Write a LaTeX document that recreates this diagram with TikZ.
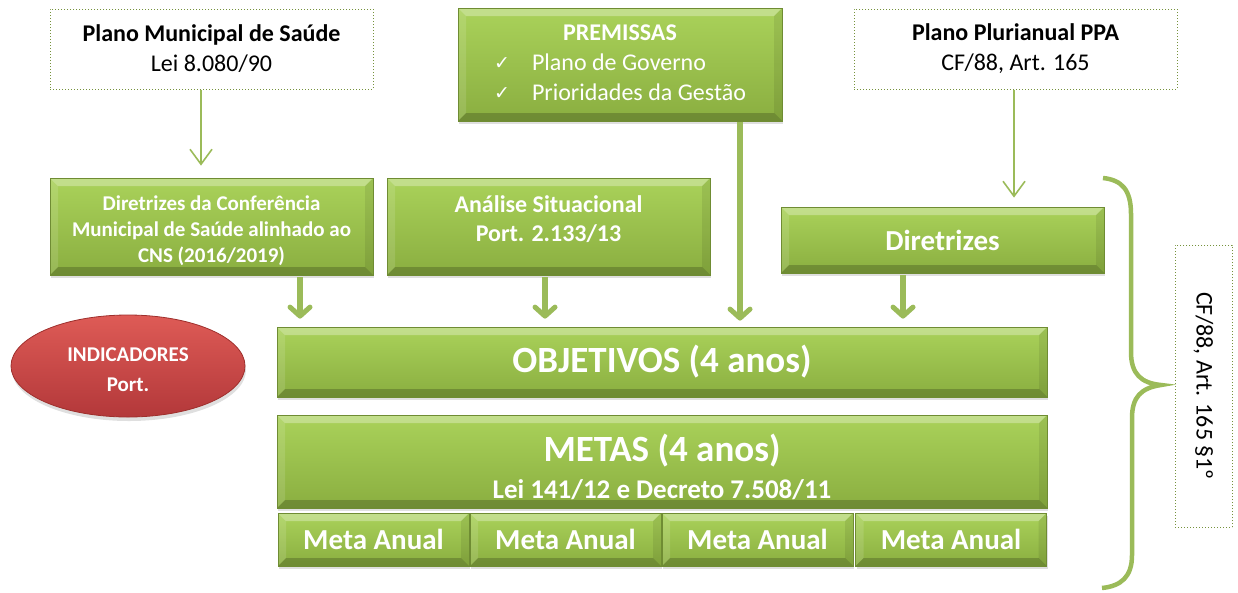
\documentclass[tikz,border=0pt]{standalone}
\usepackage{fontspec}
\setmainfont{Carlito}
\newfontfamily\dejavu{DejaVu Sans}
\usetikzlibrary{arrows.meta,shadows,calc,shapes.geometric}
\definecolor{olv}{HTML}{9BBB59}
\definecolor{olvdk}{HTML}{76923C}
\definecolor{gtop}{HTML}{AAD25A}
\definecolor{gbot}{HTML}{8AAE40}
\definecolor{gedge}{HTML}{6F8C33}
\definecolor{rtop}{HTML}{DE5B56}
\definecolor{rbot}{HTML}{B3383A}
\definecolor{redge}{HTML}{9E2F2C}
\newcommand\fsz[2]{\fontsize{#1}{#2}\selectfont}
\tikzset{
  bevel/.style={path picture={
    \path (path picture bounding box.north west) coordinate (pNW)
          (path picture bounding box.north east) coordinate (pNE)
          (path picture bounding box.south west) coordinate (pSW)
          (path picture bounding box.south east) coordinate (pSE);
    \fill[white,opacity=.30] (pNW) -- (pNE) -- ([shift={(-8pt,-8pt)}]pNE) -- ([shift={(8pt,-8pt)}]pNW) -- cycle;
    \fill[white,opacity=.12] (pNW) -- ([shift={(8pt,-8pt)}]pNW) -- ([shift={(8pt,8pt)}]pSW) -- (pSW) -- cycle;
    \fill[black,opacity=.08] (pNE) -- ([shift={(-8pt,-8pt)}]pNE) -- ([shift={(-8pt,8pt)}]pSE) -- (pSE) -- cycle;
    \fill[black,opacity=.20] (pSW) -- ([shift={(8pt,8pt)}]pSW) -- ([shift={(-8pt,8pt)}]pSE) -- (pSE) -- cycle;
  }},
  greenbox/.style={rectangle, inner sep=0pt, align=center, text=white,
    top color=gtop, bottom color=gbot, draw=gedge, line width=0.8pt,
    drop shadow={shadow xshift=1pt, shadow yshift=-3pt, opacity=0.25}, bevel},
  dotbox/.style={rectangle, inner sep=0pt, align=center, text=black, fill=white,
    draw=olvdk, line width=1pt, dotted, font=\fsz{24}{30}},
  wtext/.style={text=white, align=center, inner sep=0pt},
  thinarr/.style={draw=olv, line width=1.6pt, -{Straight Barb[length=15pt,width=22pt,line width=1.6pt]}},
  thickarr/.style={draw=olv, line width=5.5pt, -{Straight Barb[length=9pt,width=20pt,line width=5pt,round]}},
}
\begin{document}
\begin{tikzpicture}[x=1pt,y=-1pt]
\useasboundingbox (0,0) rectangle (1238,592);

% top row
\node[dotbox, minimum width=323pt, minimum height=80pt] (pms) at (211.5,49)
  {\textbf{Plano Municipal de Saúde}\\Lei 8.080/90};
\node[greenbox, minimum width=324pt, minimum height=113pt, font=\fsz{24}{30}] (prem) at (620,64.5)
  {\begin{tabular}{@{}l@{\hspace{22pt}}l@{}}
    \multicolumn{2}{c}{\textbf{PREMISSAS}}\\
    {\dejavu\fsz{19}{30}\raisebox{1pt}{✓}} & Plano de Governo\\
    {\dejavu\fsz{19}{30}\raisebox{1pt}{✓}} & Prioridades da Gestão
   \end{tabular}};
\node[dotbox, minimum width=323pt, minimum height=80pt] (ppa) at (1015.5,49)
  {\textbf{Plano Plurianual PPA}\\CF/88, Art. 165};

% second row
\node[greenbox, minimum width=323pt, minimum height=97pt] (dcms) at (211.5,226.5) {};
\node[wtext, font=\fsz{21}{26}\bfseries] (dcmstext) at (211.5,230.5)
  {Diretrizes da Conferência\\Municipal de Saúde alinhado ao\\CNS (2016/2019)};
\node[greenbox, minimum width=323pt, minimum height=97pt] (ana) at (548.5,226.5) {};
\node[wtext, font=\fsz{24}{29}\bfseries] (anatext) at (548.5,219)
  {Análise Situacional\\Port. 2.133/13};
\node[greenbox, minimum width=323pt, minimum height=66pt, font=\fsz{29}{34}\bfseries] (dir) at (942.5,240)
  {Diretrizes};

% objectives and goals
\node[greenbox, minimum width=770pt, minimum height=70pt, font=\fsz{37}{44}\bfseries] (obj) at (662,362)
  {OBJETIVOS (4 anos)};
\node[greenbox, minimum width=770pt, minimum height=93pt] (met) at (662,461.5) {};
\node[wtext, font=\fsz{37}{44}\bfseries] (mettext) at (662,451) {METAS (4 anos)};
\node[wtext, font=\fsz{27}{32}\bfseries] (lei) at (662,490) {Lei 141/12 e Decreto 7.508/11};

\foreach \i/\cx in {1/373.5, 2/565.5, 3/757.5, 4/951}{
  \node[greenbox, minimum width=191pt, minimum height=53pt, font=\fsz{29}{34}\bfseries] (ma\i) at (\cx,539.5) {Meta Anual};
}

% indicators
\node[ellipse, minimum width=234pt, minimum height=102pt, inner sep=0pt,
  top color=rtop, bottom color=rbot, draw=redge, line width=0.8pt,
  drop shadow={shadow xshift=1pt, shadow yshift=-4pt, opacity=0.25}] (ind) at (128,366) {};
\node[wtext, font=\fsz{21}{30}\bfseries] (indtext) at (128,369.5) {INDICADORES\\Port.};

% CF box
\node[dotbox, rotate=-90, minimum width=282pt, minimum height=57pt] (cf) at (1203.5,386)
  {CF/88, Art. 165 §1º};

% thin arrows
\draw[thinarr, shorten >=12pt] ([xshift=-10.5pt]pms.south) -- ([xshift=-10.5pt]dcms.north);
\draw[thinarr, shorten >=9pt] ([xshift=-1.5pt]ppa.south) -- ([xshift=-1.5pt]ppa.south |- dir.north);

% thick arrows
\draw[thickarr, shorten <=2pt, shorten >=8pt] ([xshift=88.5pt]dcms.south) -- ([xshift=88.5pt]dcms.south |- obj.north);
\draw[thickarr, shorten <=2pt, shorten >=8pt] ([xshift=-3.5pt]ana.south) -- ([xshift=-3.5pt]ana.south |- obj.north);
\draw[thickarr, shorten <=1pt, shorten >=6pt] ([xshift=120pt]prem.south) -- ([xshift=120pt]prem.south |- obj.north);
\draw[thickarr, shorten <=2pt, shorten >=8pt] ([xshift=-39.5pt]dir.south) -- ([xshift=-39.5pt]dir.south |- obj.north);

% brace
\draw[olv, line width=4.5pt]
  (1103,178) .. controls (1122,180) and (1131,190) .. (1131,214)
  -- (1131,352) .. controls (1131,374) and (1141,383) .. (1161,385)
  .. controls (1141,388) and (1132,397) .. (1132,418)
  -- (1132,555) .. controls (1132,577) and (1121,586) .. (1102,588);
\end{tikzpicture}
\end{document}
